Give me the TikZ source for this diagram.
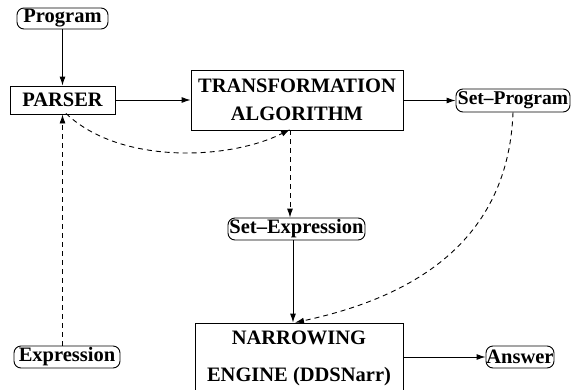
\documentclass[tikz,border=0pt]{standalone}
\usepackage{fontspec}
\setmainfont{Liberation Serif}
\usetikzlibrary{arrows.meta,calc}
\begin{document}
\begin{tikzpicture}[x=1pt,y=-1pt,
  every node/.style={inner sep=0pt,font=\fontsize{20.5}{24}\selectfont\bfseries},
  boxnode/.style={draw,line width=0.9pt,align=center},
  pill/.style={draw,line width=0.9pt,rounded corners=7pt},
  arr/.style={line width=0.9pt,-{Latex[length=9pt,width=6pt]}},
  darr/.style={arr,dash pattern=on 5pt off 4pt}]
\useasboundingbox (0,0) rectangle (571,389);
\begin{scope}
\clip (0,0) rectangle (571,389);
\node[pill,minimum width=91pt,minimum height=21pt] (prog) at (62.5,18.5) {Program};
\node[boxnode,minimum width=105pt,minimum height=28pt] (parser) at (62.5,100) {PARSER};
\node[boxnode,minimum width=212pt,minimum height=60pt,font=\fontsize{20.5}{28}\selectfont\bfseries] (trans) at (297,100) {TRANSFORMATION\\ALGORITHM};
\node[pill,minimum width=114pt,minimum height=23pt,font=\fontsize{19.5}{24}\selectfont\bfseries] (setprog) at (513,100.5) {Set--Program};
\node[pill,minimum width=137pt,minimum height=22pt] (setexp) at (296.5,229) {Set--Expression};
\node[pill,minimum width=106pt,minimum height=22pt] (expr) at (67,357) {Expression};
\node[boxnode,minimum width=208pt,minimum height=70pt,font=\fontsize{20.5}{37}\selectfont\bfseries] (narrow) at (299,358) {NARROWING\\ENGINE (DDSNarr)};
\node[pill,minimum width=68pt,minimum height=22pt] (ans) at (520,357) {Answer};

\draw[arr] (prog.south) -- (parser.north);
\draw[arr] (parser.east) -- (trans.west);
\draw[arr] (trans.east |- setprog.west) -- (setprog.west);
\draw[darr] ([xshift=-7pt]trans.south) -- ([xshift=-7pt]trans.south |- setexp.north);
\draw[arr] ([xshift=-3.5pt]setexp.south) -- ([xshift=-3.5pt]setexp.south |- narrow.north);
\draw[arr] (narrow.east |- ans.west) -- (ans.west);
\draw[darr] (parser.south |- expr.north) -- (parser.south);
\draw[darr] ([xshift=3.5pt,yshift=1pt]parser.south) .. controls (120,165) and (230,160) .. ([xshift=-7pt,yshift=1pt]trans.south);
\draw[darr] (setprog.south) .. controls (508,250) and (400,300) .. ([xshift=-4pt]narrow.north);
\end{scope}
\end{tikzpicture}
\end{document}
